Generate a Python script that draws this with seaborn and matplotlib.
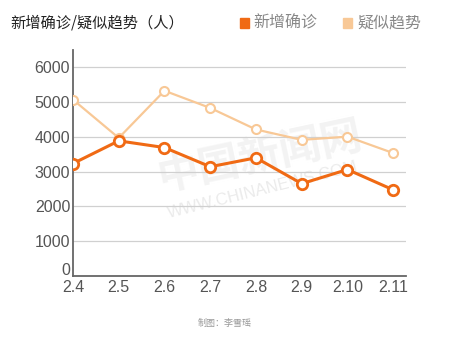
import matplotlib
matplotlib.use("Agg")
import matplotlib.pyplot as plt
import matplotlib.transforms as mtransforms
from matplotlib.patches import Rectangle
import seaborn as sns
import pandas as pd

# Daily figures, Feb 4 – Feb 11
dates = ["2.4", "2.5", "2.6", "2.7", "2.8", "2.9", "2.10", "2.11"]
confirmed = [3235, 3887, 3694, 3143, 3399, 2656, 3062, 2478]
suspected = [5072, 3971, 5328, 4833, 4214, 3916, 4008, 3536]
series_names = ["新增确诊", "疑似趋势"]
y_ticks = [0, 1000, 2000, 3000, 4000, 5000, 6000]

colors = {"新增确诊": "#F06A14", "疑似趋势": "#F8C896"}

sns.set_theme(style="white")
plt.rcParams["font.family"] = ["Liberation Sans", "Noto Sans CJK SC", "DejaVu Sans"]

df = pd.DataFrame({
    "pos": list(range(len(dates))) * 2,
    "value": confirmed + suspected,
    "series": [series_names[0]] * len(dates) + [series_names[1]] * len(dates),
})

fig = plt.figure(figsize=(4.5, 3.4), dpi=100)
ax = fig.add_axes([73 / 450, 1 - 276 / 340, (406 - 73) / 450, (276 - 50) / 340])

# faint site watermark behind the lines
ax.text(0.56, 0.53, "中国新闻网", transform=ax.transAxes, fontsize=30,
        color="#f3f3f3", rotation=12, ha="center", va="center",
        family=["Noto Sans CJK SC"], fontweight="bold", zorder=0)
ax.text(0.57, 0.38, "WWW.CHINANEWS.COM", transform=ax.transAxes, fontsize=12,
        color="#ebebeb", rotation=14, ha="center", va="center", zorder=0)

# draw the lighter series first so the orange line sits on top
for name, lw, ms, mew in [(series_names[1], 1.6, 6.5, 1.5),
                          (series_names[0], 2.2, 7.5, 2.0)]:
    sub = df[df["series"] == name]
    sns.lineplot(data=sub, x="pos", y="value", ax=ax, color=colors[name],
                 linewidth=lw, marker="o", markersize=ms, mfc="white",
                 mec=colors[name], mew=mew, legend=False, zorder=3)

ax.set_xlim(0, len(dates) - 1 + 0.28)
ax.set_ylim(0, 6500)
ax.set_xticks(range(len(dates)))
ax.set_xticklabels(dates)
ax.set_yticks(y_ticks)
ax.set_xlabel("")
ax.set_ylabel("")
ax.grid(axis="y", color="#d0d0d0", linewidth=0.9)
ax.set_axisbelow(True)
for side in ["top", "right"]:
    ax.spines[side].set_visible(False)
for side in ["left", "bottom"]:
    ax.spines[side].set_color("#666666")
    ax.spines[side].set_linewidth(1.3)
ax.tick_params(axis="both", length=0, labelsize=11.5, colors="#555555")
ax.tick_params(axis="y", pad=2)
ax.tick_params(axis="x", pad=3)

# lift the zero label slightly so it clears the date labels
zero_label = ax.get_yticklabels()[0]
zero_label.set_transform(zero_label.get_transform() +
                         mtransforms.ScaledTranslation(0, 5 / 72, fig.dpi_scale_trans))

# title and legend across the top
fig.text(10 / 450, 1 - 23 / 340, "新增确诊/疑似趋势（人）", fontsize=11,
         color="#222222", ha="left", va="center",
         family=["Noto Sans CJK SC"], fontweight="medium")
legend_items = [(series_names[0], 240, 253), (series_names[1], 343, 357)]
for name, sx, tx in legend_items:
    fig.patches.append(Rectangle((sx / 450, 1 - 27.5 / 340), 9 / 450, 9 / 340,
                                 transform=fig.transFigure, color=colors[name]))
    fig.text(tx / 450, 1 - 23 / 340, name, fontsize=11.5, color="#888888",
             ha="left", va="center", family=["Noto Sans CJK SC"])

fig.text(225 / 450, 1 - 323 / 340, "制图：李雪瑶", fontsize=6.5, color="#999999",
         ha="center", va="center", family=["Noto Sans CJK SC"])

fig.savefig("out.png", dpi=100, facecolor="white")
